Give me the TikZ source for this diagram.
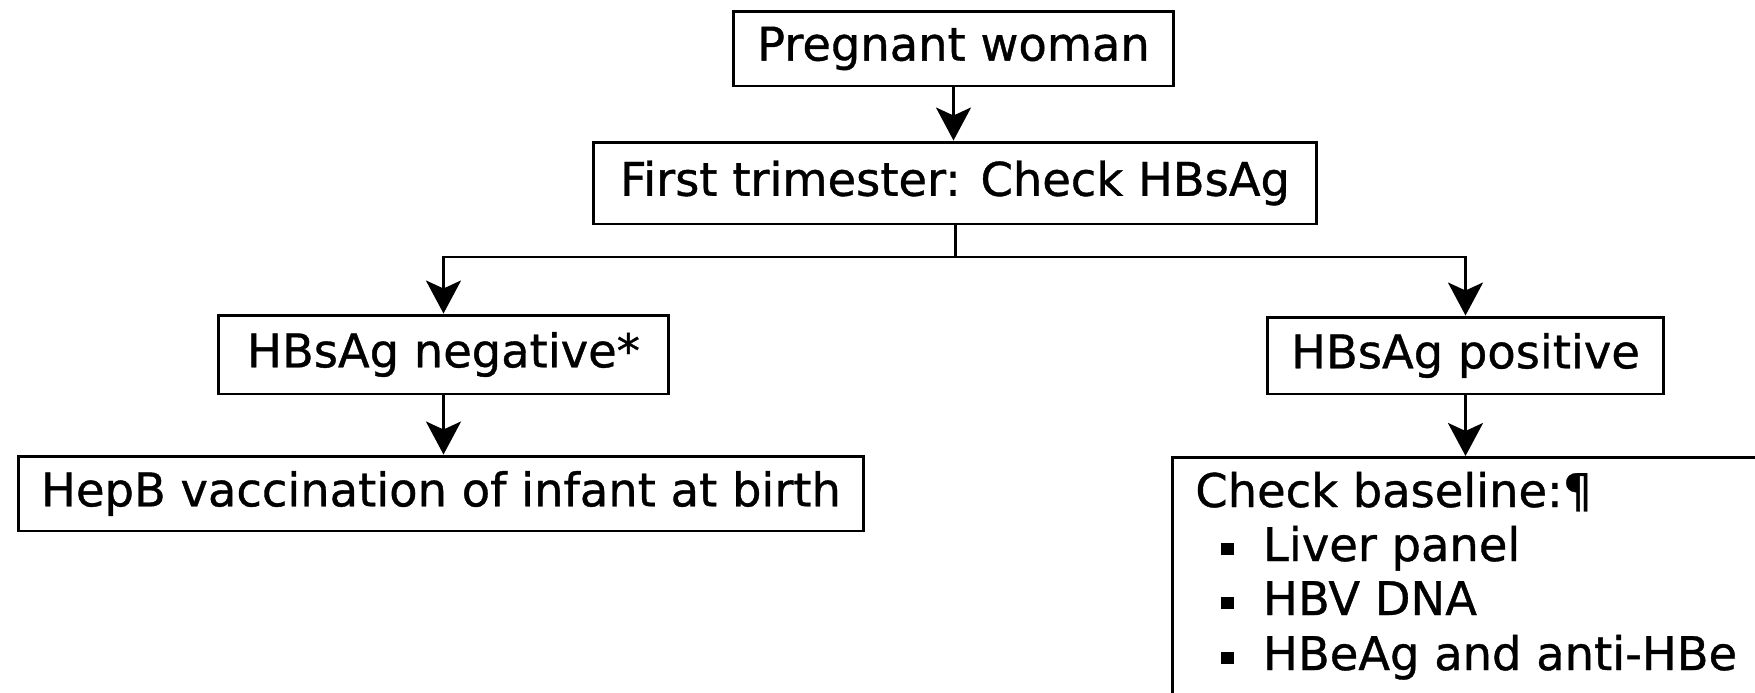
\documentclass[tikz,border=0pt]{standalone}
\usepackage{fontspec}
\setmainfont[FakeBold=0.8]{DejaVu Sans}
\usetikzlibrary{arrows.meta}

\newcommand\sqbul{\raisebox{0.13em}{\rule{0.28em}{0.26em}}\hspace{0.62em}}

\tikzset{
  box/.style={draw,line width=1.7pt,inner sep=0pt},
  link/.style={line width=1.7pt},
  flow/.style={line width=1.7pt,-{Stealth[length=0.66cm,width=0.7cm,inset=0.16cm]}}
}

\begin{document}
\begin{tikzpicture}[x=0.02cm,y=-0.02cm,font=\fontsize{26.4}{31}\selectfont]
  % Constants
  \pgfmathsetmacro\W{1755}
  \pgfmathsetmacro\H{693}
  \pgfmathsetmacro\j{257}
  % Boundary
  \path[use as bounding box] (0,0) rectangle (\W,\H);
  % Boxes
  \node[box,minimum width=8.82cm,minimum height=1.5cm] (woman) at (953.5,48.5) {Pregnant woman};
  \node[box,minimum width=14.48cm,minimum height=1.64cm] (trim) at (955,183) {First trimester: Check HBsAg};
  \node[box,minimum width=9.02cm,minimum height=1.58cm] (neg) at (443.5,354.5) {HBsAg negative*};
  \node[box,minimum width=16.92cm,minimum height=1.5cm] (hepb) at (441,493.5) {HepB vaccination of infant at birth};
  \node[box,minimum width=7.94cm,minimum height=1.54cm] (pos) at (1465.5,355.5) {HBsAg positive};
  % Baseline box, cut by the page edge
  \node[box,anchor=north west,minimum width=13cm,minimum height=6cm] (check) at (1171,456) {};
  \node[anchor=base west,inner sep=0pt] (chkhead) at (1195,507) {Check baseline:¶};
  \node[anchor=base west,inner sep=0pt] (chka) at (1221,561) {\sqbul Liver panel};
  \node[anchor=base west,inner sep=0pt] (chkb) at (1221,615) {\sqbul HBV DNA};
  \node[anchor=base west,inner sep=0pt] (chkc) at (1221,670) {\sqbul HBeAg and anti-HBe};
  % Arrows
  \coordinate (fork) at (trim.south |- 0,\j);
  \draw[flow] (woman.south) -- (woman.south |- trim.north);
  \draw[link] (trim.south) -- (fork);
  \draw[flow] (fork) -| (neg.north);
  \draw[flow] (fork) -| (pos.north);
  \draw[flow] (neg.south) -- (neg.south |- hepb.north);
  \draw[flow] (pos.south) -- (pos.south |- check.north);
\end{tikzpicture}
\end{document}
